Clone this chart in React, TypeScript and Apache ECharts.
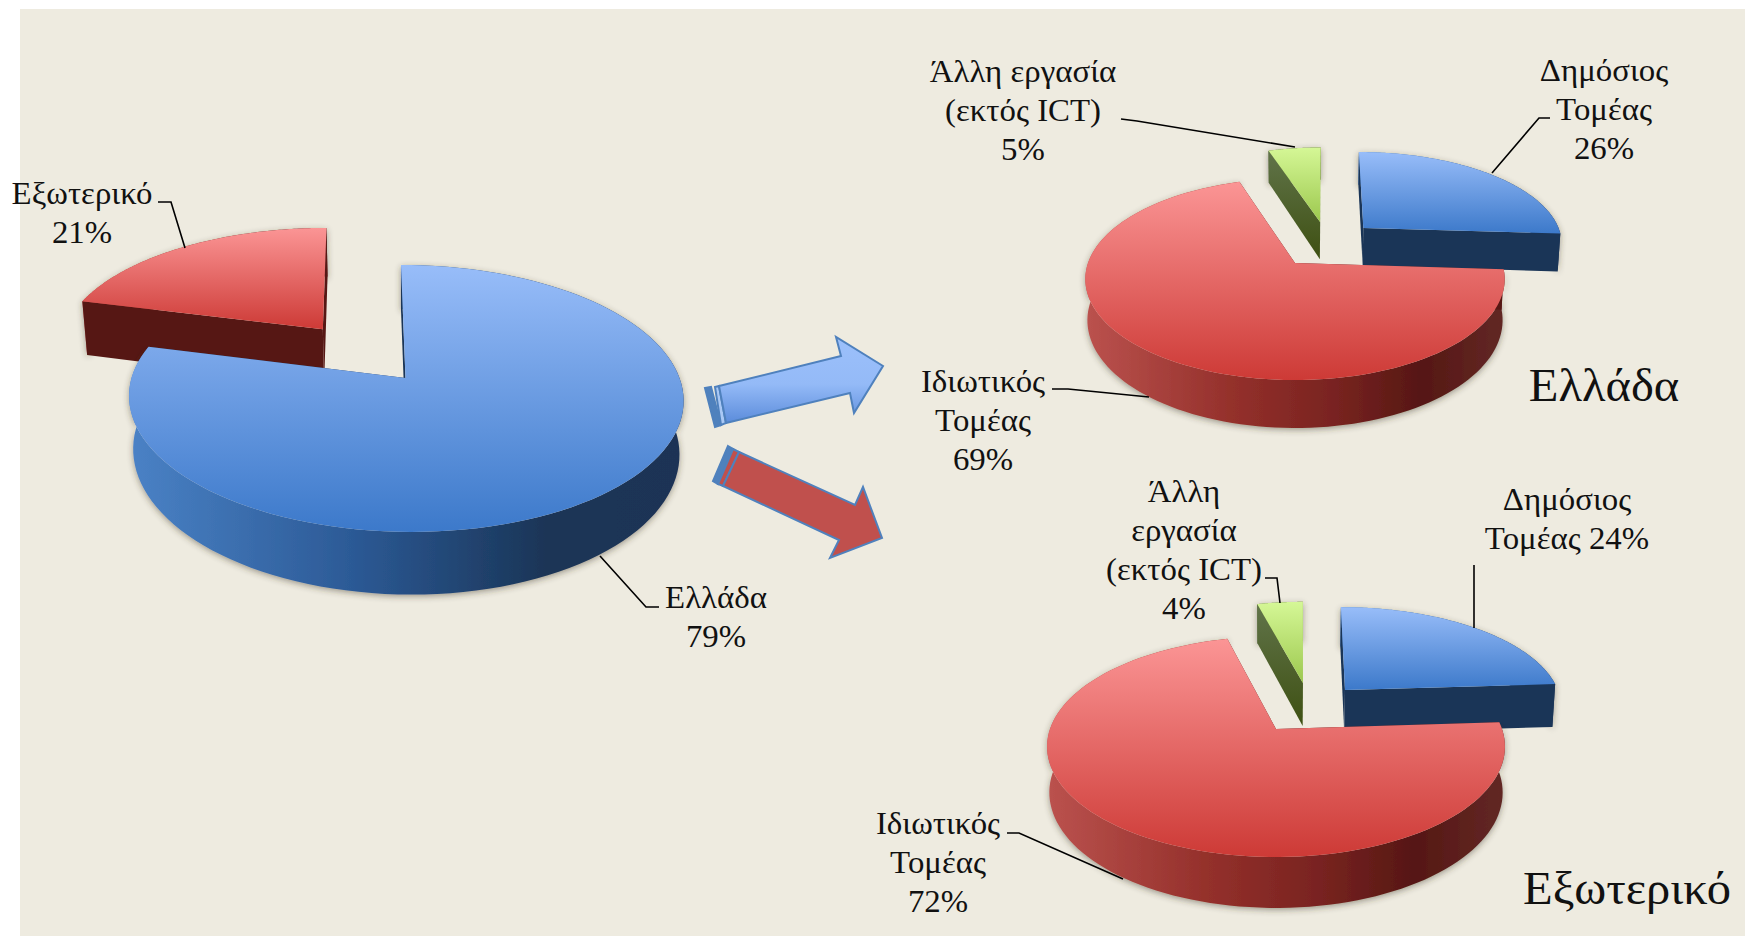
import React, { useEffect, useRef } from "react";
import * as echarts from "echarts";

const mainNames = ["Ελλάδα", "Εξωτερικό"];
const mainValues = [79, 21];
const greeceNames = ["Δημόσιος Τομέας", "Ιδιωτικός Τομέας", "Άλλη εργασία (εκτός ICT)"];
const greeceValues = [26, 69, 5];
const abroadNames = ["Δημόσιος Τομέας", "Ιδιωτικός Τομέας", "Άλλη εργασία (εκτός ICT)"];
const abroadValues = [24, 72, 4];

const mainLabels = [["Ελλάδα", "79%"], ["Εξωτερικό", "21%"]];
const greeceLabels = [["Δημόσιος", "Τομέας", "26%"], ["Ιδιωτικός", "Τομέας", "69%"], ["Άλλη εργασία", "(εκτός ICT)", "5%"]];
const abroadLabels = [["Δημόσιος", "Τομέας 24%"], ["Ιδιωτικός", "Τομέας", "72%"], ["Άλλη", "εργασία", "(εκτός ICT)", "4%"]];
const pieTitles = ["Ελλάδα", "Εξωτερικό"];

const BLUE = { top: ["#98bdf9", "#3c79ca"], wall: ["#1a3557", "#1a3557"], side: [[0, "#4a82c6"], [0.4, "#2c5a96"], [0.75, "#1a3557"], [1, "#1a3355"]] };
const RED = { top: ["#fb9595", "#cd3a36"], wall: ["#561714", "#561714"], side: [[0, "#bb524e"], [0.35, "#94302b"], [0.6, "#782320"], [0.8, "#561714"], [1, "#622825"]] };
const GREEN = { top: ["#d5f796", "#9cc84e"], wall: ["#61744a", "#3e5012"], side: [[0, "#5a6b3a"], [1, "#3e5012"]] };

type Geo = { ax: number; ay: number; A: number; B: number; k: number; D: number; dB: number; sA: number };
type Place = { eu: number; ev: number; dD?: number; shear?: number };

const pieSeries = (
  geo: Geo,
  names: string[],
  values: number[],
  looks: any[],
  places: Place[],
  order: number[],
) => {
  const total = values.reduce((a, b) => a + b, 0);
  const project = (u: number, v: number, bottom: boolean, p: Place) => {
    const w = 1 - geo.k * v;
    const w0 = 1 - geo.k * p.ev;
    const lean = (p.shear || 0) * geo.B * (v / w - p.ev / w0);
    return bottom
      ? [geo.ax + lean + (geo.A * geo.sA * u) / w, geo.ay + geo.D + (p.dD || 0) + ((geo.B + geo.dB) * v) / w]
      : [geo.ax + lean + (geo.A * u) / w, geo.ay + (geo.B * v) / w];
  };
  return {
    type: "custom",
    coordinateSystem: "none",
    silent: true,
    z: 2,
    data: values.map((v, i) => ({ name: names[i], value: [v] })),
    renderItem: (params: any, api: any) => {
      const i = params.dataIndex;
      const before = values.slice(0, i).reduce((a, b) => a + b, 0);
      const t0 = (before / total) * Math.PI * 2;
      const t1 = ((before + api.value(0)) / total) * Math.PI * 2;
      const place = places[i];
      const { eu, ev } = place;
      const look = looks[i];
      const apex = (b: boolean) => project(eu, ev, b, place);
      const rim = (t: number, b: boolean) => project(eu + Math.sin(t), ev - Math.cos(t), b, place);
      const steps = 120;
      const topArc: number[][] = [];
      const botArc: number[][] = [];
      for (let s = 0; s <= steps; s++) {
        const t = t0 + ((t1 - t0) * s) / steps;
        topArc.push(rim(t, false));
        botArc.push(rim(t, true));
      }
      const base = order[i] * 10;
      const wall = (t: number, z: number) => ({
        type: "polygon",
        z2: base + z,
        shape: { points: [apex(false), rim(t, false), rim(t, true), apex(true)] },
        style: {
          fill: new echarts.graphic.LinearGradient(0, 0, 0, 1, [
            { offset: 0, color: look.wall[0] },
            { offset: 1, color: look.wall[1] },
          ]),
        },
      });
      return {
        type: "group",
        children: [
          {
            type: "polygon",
            z2: base,
            shape: { points: [...topArc, ...botArc.slice().reverse()] },
            style: {
              fill: new echarts.graphic.LinearGradient(0, 0, 1, 0, look.side.map(([offset, color]: any) => ({ offset, color }))),
              shadowBlur: 6,
              shadowColor: "rgba(60,50,40,0.45)",
              shadowOffsetY: 2,
            },
          },
          wall(t0, 1),
          wall(t1, 2),
          {
            type: "polygon",
            z2: base + 3,
            shape: { points: [apex(false), ...topArc] },
            style: {
              fill: new echarts.graphic.LinearGradient(0, 0, 0, 1, [
                { offset: 0, color: look.top[0] },
                { offset: 1, color: look.top[1] },
              ]),
            },
          },
        ],
      };
    },
  };
};

const FONT = '"Liberation Serif", serif';
const LINE = 39;

const label = (lines: string[], x: number, y: number, size = 31, stretch = 1.06, pitch = LINE) =>
  lines.map((text, n) => ({
    type: "text",
    z: 10,
    silent: true,
    x,
    y: y + n * pitch,
    scaleX: stretch,
    style: { text, fill: "#111", font: `${size}px ${FONT}`, textAlign: "center", textVerticalAlign: "middle" },
  }));

const leader = (points: number[][]) => ({
  type: "polyline",
  z: 10,
  silent: true,
  shape: { points },
  style: { stroke: "#000", lineWidth: 1.6, fill: "none" },
});

const arrow = (points: number[][], fill: any, stroke = "#4f81bd") => ({
  type: "polygon",
  z: 1,
  silent: true,
  shape: { points },
  style: { fill, stroke, lineWidth: 2, lineJoin: "miter" },
});

export default function App() {
  const ref = useRef<HTMLDivElement>(null);
  useEffect(() => {
    const chart = echarts.init(ref.current!, null, { renderer: "svg" });
    const blueFill = new echarts.graphic.LinearGradient(0, 0, 0, 1, [
      { offset: 0, color: "#9cc0fb" },
      { offset: 0.55, color: "#94baf7" },
      { offset: 1, color: "#5b8cdb" },
    ]);
    chart.setOption({
      animation: false,
      backgroundColor: "#ffffff",
      graphic: [
        { type: "rect", z: 0, silent: true, shape: { x: 20, y: 9, width: 1725, height: 927 }, style: { fill: "#eeebe0" } },
        arrow([[705, 388], [711, 387], [721, 425], [715, 427]], "#4f81bd"),
        arrow([[715, 387], [719, 386], [726, 423], [721, 425]], "#a9c8f5"),
        arrow([[719, 386], [841, 356], [836, 337], [883, 366], [854, 413], [850, 393], [726, 423]], blueFill),
        arrow([[728, 446], [733, 449], [718, 484], [713, 481]], "#4f81bd"),
        arrow([[733, 449], [739, 452], [723, 486], [718, 484]], "#c0504d"),
        arrow([[739, 452], [855, 505], [863, 487], [882, 538], [830, 558], [839, 540], [723, 486]], "#c0504d"),
        leader([[158, 202], [171, 202], [185, 248]]),
        leader([[600, 556], [646, 607], [659, 607]]),
        leader([[1121, 119], [1137, 121], [1295, 147]]),
        leader([[1550, 118], [1539, 118], [1492, 173]]),
        leader([[1052, 389], [1068, 389], [1149, 397]]),
        leader([[1265, 578], [1277, 578], [1280, 603]]),
        leader([[1474, 565], [1474, 628]]),
        leader([[1007, 833], [1019, 833], [1123, 879]]),
        ...label(mainLabels[0], 716, 598),
        ...label(mainLabels[1], 82, 194),
        ...label(greeceLabels[0], 1604, 71),
        ...label(greeceLabels[1], 983, 382),
        ...label(greeceLabels[2], 1023, 72),
        ...label(abroadLabels[0], 1567, 500),
        ...label(abroadLabels[1], 938, 824),
        ...label(abroadLabels[2], 1184, 492),
        ...label([pieTitles[0]], 1604, 385, 46, 1.055),
        ...label([pieTitles[1]], 1627, 888, 46, 1.055),
      ],
      series: [
        pieSeries(
          { ax: 405.5, ay: 378, A: 274, B: 130.4, k: 0.153, D: 52, dB: 9, sA: 0.985 },
          mainNames,
          mainValues,
          [BLUE, RED],
          [{ eu: 0, ev: 0, shear: 0.04 }, { eu: -0.32, ev: -0.397, dD: 7, shear: 0.067 }],
          [2, 1],
        ),
        pieSeries(
          { ax: 1295, ay: 263, A: 207, B: 98.3, k: 0.16, D: 40, dB: 6.7, sA: 0.99 },
          greeceNames,
          greeceValues,
          [BLUE, RED, GREEN],
          [{ eu: 0.35, ev: -0.3775, shear: -0.06 }, { eu: 0, ev: 0 }, { eu: 0.13, ev: -0.447, shear: -0.053 }],
          [1, 3, 2],
        ),
        pieSeries(
          { ax: 1276, ay: 729, A: 226, B: 107.5, k: 0.16, D: 45, dB: 5, sA: 0.99 },
          abroadNames,
          abroadValues,
          [BLUE, RED, GREEN],
          [{ eu: 0.324, ev: -0.385, shear: -0.06 }, { eu: 0, ev: 0 }, { eu: 0.128, ev: -0.459, shear: -0.043 }],
          [1, 3, 2],
        ),
      ],
    });
    return () => chart.dispose();
  }, []);
  return <div ref={ref} style={{ position: "fixed", left: 0, top: 0, width: 1745, height: 937 }} />;
}
